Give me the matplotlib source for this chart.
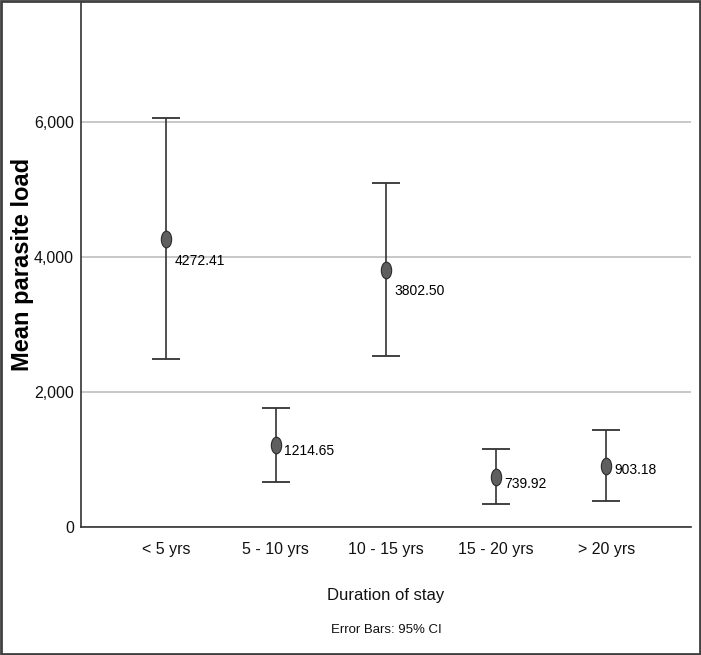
import matplotlib.pyplot as plt
import numpy as np
from matplotlib.path import Path
from matplotlib.transforms import Affine2D
from matplotlib.patches import Rectangle

categories = ["< 5 yrs", "5 - 10 yrs", "10 - 15 yrs", "15 - 20 yrs", "> 20 yrs"]
means = [4272.41, 1214.65, 3802.50, 739.92, 903.18]
ci_low = [2490, 662, 2529, 336, 385]
ci_high = [6059, 1768, 5096, 1151, 1432]
yticks = [0, 2000, 4000, 6000]
ytick_labels = ["0", "2,000", "4,000", "6,000"]

# label offsets (points) from each mean, as placed in the original
label_dy = [-16, -4, -15, -5, -3]

plt.rcParams['font.family'] = ["Liberation Sans", "DejaVu Sans"]

fig = plt.figure(figsize=(7.01, 6.55), dpi=100)
ax = fig.add_axes([0.1156, 0.1954, 0.8701, 0.8016])

x = np.arange(len(categories))
means_a = np.array(means)
yerr = np.vstack([means_a - np.array(ci_low), np.array(ci_high) - means_a])

ellipse = Path.unit_circle().transformed(Affine2D().scale(0.62, 1.0))

ax.errorbar(x, means_a, yerr=yerr, fmt='none', ecolor='#333333',
            elinewidth=1.2, capsize=10, capthick=1.3, zorder=3)
ax.plot(x, means_a, linestyle='none', marker=ellipse, markersize=12,
        markerfacecolor='#5f5f5f', markeredgecolor='#2a2a2a',
        markeredgewidth=0.8, zorder=4)

for xi, m, dy in zip(x, means, label_dy):
    ax.annotate(f"{m:.2f}", (xi, m), xytext=(6, dy), textcoords='offset points',
                ha='left', va='center', fontsize=10, color='#000000')

ax.set_xlim(-0.77, len(categories) - 0.23)
ax.set_ylim(0, 7780)
ax.set_yticks(yticks)
ax.set_yticklabels(ytick_labels)
ax.set_xticks(x)
ax.set_xticklabels(categories)
ax.tick_params(axis='both', length=0, labelsize=11.5, colors='#111111')
ax.tick_params(axis='x', pad=11)
ax.tick_params(axis='y', pad=5)

ax.yaxis.grid(True, color='#c8c8c8', linewidth=1.4)
ax.set_axisbelow(True)
for s in ['top', 'right']:
    ax.spines[s].set_visible(False)
ax.spines['left'].set_color('#333333')
ax.spines['bottom'].set_color('#333333')
ax.spines['left'].set_linewidth(1.2)
ax.spines['bottom'].set_linewidth(1.2)

ax.set_ylabel("Mean parasite load", fontsize=17, fontweight='bold')
ax.yaxis.set_label_coords(-0.077, 0.5)
ax.set_xlabel("Duration of stay", fontsize=12, labelpad=22, color='#111111')

fig.text(0.5507, 0.038, "Error Bars: 95% CI", ha='center', va='center',
         fontsize=9.5, color='#111111')

fig.patches.append(Rectangle((0.0015, 0.0015), 0.997, 0.997, transform=fig.transFigure,
                             fill=False, edgecolor='#404040', linewidth=2))

fig.savefig("out.png", dpi=100)
